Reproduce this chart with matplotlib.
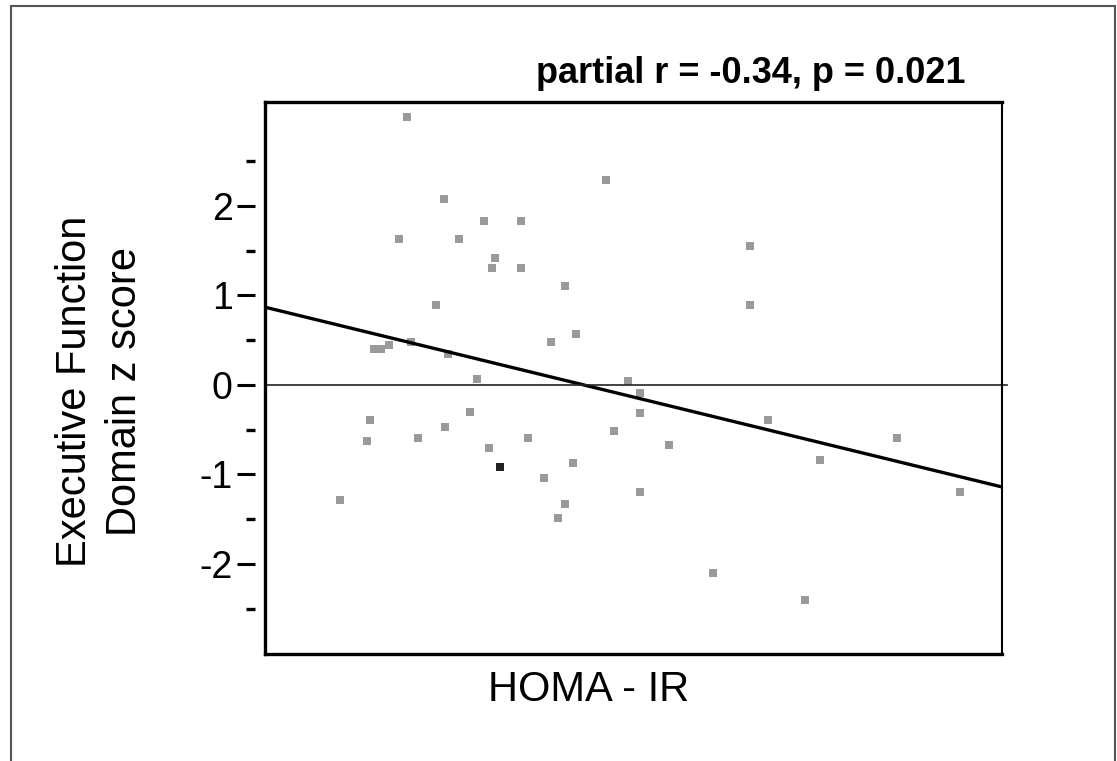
import matplotlib.pyplot as plt
import matplotlib.patches as patches
import numpy as np
from matplotlib.ticker import FixedLocator, NullFormatter

plt.rcParams['font.family'] = ['Liberation Sans', 'DejaVu Sans']
plt.rcParams['axes.unicode_minus'] = False

# HOMA-IR (arbitrary units) and executive function z score
homa = [1.54, 3.70, 1.94, 2.38, 2.78, 1.46, 2.11, 2.50, 2.46, 2.78,
        3.26, 1.86, 3.11, 3.38, 1.59, 1.18, 1.26, 1.35, 1.99, 2.30,
        3.94, 5.26, 5.26, 4.07, 4.07, 1.14, 1.11, 2.23, 1.95, 1.66,
        2.86, 2.43, 3.79, 3.34, 3.03, 4.07, 3.26, 3.18, 0.82, 5.46,
        4.39, 6.02, 6.86, 7.54, 4.86, 5.86]
zscore = [2.99, 2.29, 2.08, 1.83, 1.83, 1.63, 1.63, 1.42, 1.30, 1.30,
          1.10, 0.89, 0.48, 0.57, 0.48, 0.40, 0.40, 0.44, 0.35, 0.07,
          0.04, 1.55, 0.89, -0.09, -0.31, -0.39, -0.63, -0.30, -0.47, -0.59,
          -0.59, -0.71, -0.51, -0.87, -1.04, -1.20, -1.33, -1.49, -1.29, -0.39,
          -0.67, -0.84, -0.59, -1.20, -2.10, -2.40]
# one highlighted (darker) point
dark_homa = [2.55]
dark_z = [-0.92]

# partial regression line
fit_intercept = 0.868
fit_slope = -0.251

fig = plt.figure(figsize=(11.17, 7.61), dpi=100)
ax = fig.add_axes([0.2372, 0.1406, 0.6598, 0.7254])

ax.set_xlim(0, 8)
ax.set_ylim(-3.006, 3.16)

ax.plot(homa, zscore, 's', color='#9a9a9a', markersize=6, markeredgewidth=0)
ax.plot(dark_homa, dark_z, 's', color='#222222', markersize=6, markeredgewidth=0)

xs = np.array(ax.get_xlim())
ax.plot(xs, fit_intercept + fit_slope * xs, color='black', lw=2.4)
ax.axhline(0, xmin=0, xmax=1.007, color='#222222', lw=1.2, clip_on=False)

for side in ['left', 'top', 'bottom']:
    ax.spines[side].set_linewidth(2.4)
ax.spines['right'].set_linewidth(1.5)
ax.set_xticks([])
ax.set_yticks([])

# detached ticks on the left
sec = ax.secondary_yaxis(-0.0136)
sec.spines['left'].set_visible(False)
sec.yaxis.set_major_locator(FixedLocator([-2, -1, 0, 1, 2]))
sec.yaxis.set_minor_locator(FixedLocator([-2.5, -1.5, -0.5, 0.5, 1.5, 2.5]))
sec.yaxis.set_minor_formatter(NullFormatter())
sec.tick_params(axis='y', which='major', length=13, width=2.2, labelsize=27, pad=3)
sec.tick_params(axis='y', which='minor', length=6.5, width=2.4)

fig.text(0.864, 0.904, 'partial r = -0.34, p = 0.021', ha='right', va='center',
         fontsize=26, fontweight='bold')
fig.text(100 / 1117, 1 - 391 / 761, 'Executive Function\nDomain z score', rotation=90,
         ha='center', va='center', multialignment='center', fontsize=30, linespacing=1.3)
fig.text(589 / 1117, 1 - 690 / 761, 'HOMA - IR', ha='center', va='center', fontsize=30)

# outer frame
frame = patches.Rectangle((11 / 1117, -0.05), (1115 - 11) / 1117, 1.05 - 6 / 761,
                          transform=fig.transFigure, fill=False, edgecolor='#555555', lw=1.5)
fig.patches.append(frame)

fig.savefig('out.png', dpi=100)
